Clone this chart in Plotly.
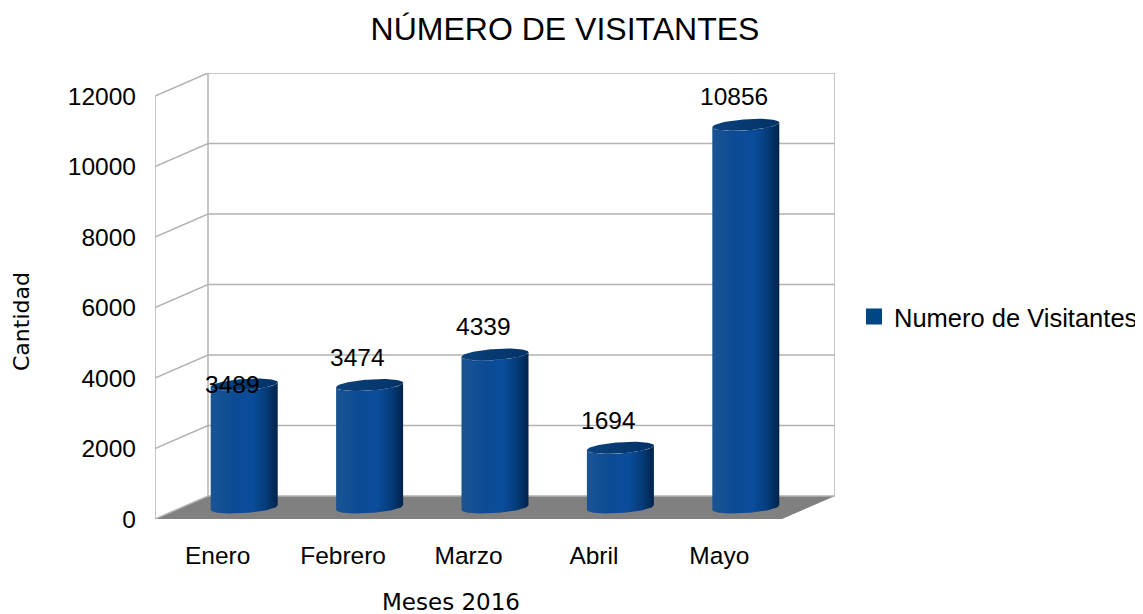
import numpy as np
import plotly.graph_objects as go

# ---------------- data ----------------
months = ["Enero", "Febrero", "Marzo", "Abril", "Mayo"]
visitors = [3489, 3474, 4339, 1694, 10856]
y_ticks = [0, 2000, 4000, 6000, 8000, 10000, 12000]
y_tick_text = ["0", "2000", "4000", "6000", "8000", "10000", "12000"]
series_name = "Numero de Visitantes"
title_text = "NÚMERO DE VISITANTES"
x_title = "Meses 2016"
y_title = "Cantidad"

# ---------------- geometry (pixels -> axis units) ----------------
OFF = 8                      # page body margin of the html output
W, H = 1143, 614
PL, PB = 155 - OFF, 519 - OFF   # front-left corner of the floor (px)
FRONT_W = 627               # front width (px)
Y_PX = 423                  # px for 0..12000
DEPTH_PX = (53, 23)         # oblique depth shift (px)
YMAX = 12000
ux = FRONT_W / len(months)          # px per category
uy = Y_PX / YMAX                    # px per visitor
DX = DEPTH_PX[0] / ux
DY = DEPTH_PX[1] / uy
x0, x1 = -0.5, len(months) - 0.5
PR = PL + FRONT_W + DEPTH_PX[0]
PT = PB - Y_PX - DEPTH_PX[1]
pw = PR - PL
ph = PB - PT


def px_x(p):
    return (p - OFF - PL) / pw


def px_y(p):
    return (PB - (p - OFF)) / ph


GRID = "#b3b3b3"
fig = go.Figure()

# floor
fig.add_trace(go.Scatter(
    x=[x0, x1, x1 + DX, x0 + DX, x0], y=[0, 0, DY, DY, 0],
    mode="lines", fill="toself", fillcolor="#808080",
    line=dict(width=0), hoverinfo="skip", showlegend=False))

# walls and grid lines
gx, gy = [], []
for v in y_ticks:
    gx += [x0, x0 + DX, x1 + DX, None]
    gy += [v, v + DY, v + DY, None]
gx += [x0, x0, None, x0 + DX, x0 + DX, None, x1 + DX, x1 + DX, None]
gy += [0, YMAX, None, DY, YMAX + DY, None, DY, YMAX + DY, None]
fig.add_trace(go.Scatter(x=gx, y=gy, mode="lines",
                         line=dict(color=GRID, width=1.5),
                         hoverinfo="skip", showlegend=False))

# cylinders
A = 31 / ux
B = 12.7 / ux
C = 6 / uy
alpha = np.arctan2(B, A)
body_scale = [[0, "#1a5493"], [0.35, "#0c4b95"], [0.62, "#0a4d9b"],
              [0.82, "#053c7a"], [1, "#00234a"]]
top_scale = [[0, "#0b417c"], [1, "#033266"]]

for i, v in enumerate(visitors):
    cx = i + 0.5 * DX
    yb = 0.5 * DY
    yt = v + 0.5 * DY
    th_front = np.linspace(alpha + np.pi, alpha + 2 * np.pi, 60)
    bx = cx + A * np.cos(th_front) + B * np.sin(th_front)
    by = yb + C * np.sin(th_front)
    tx = bx[::-1]
    ty = (yt + C * np.sin(th_front))[::-1]
    px_ = np.concatenate([bx, tx, bx[:1]])
    py_ = np.concatenate([by, ty, by[:1]])
    fig.add_trace(go.Scatter(
        x=px_, y=py_, mode="lines", fill="toself",
        fillgradient=dict(type="horizontal", colorscale=body_scale),
        line=dict(width=0), hoverinfo="skip", showlegend=False))
    th = np.linspace(0, 2 * np.pi, 100)
    ex = cx + A * np.cos(th) + B * np.sin(th)
    ey = yt + C * np.sin(th)
    fig.add_trace(go.Scatter(
        x=ex, y=ey, mode="lines", fill="toself",
        fillgradient=dict(type="horizontal", colorscale=top_scale),
        line=dict(width=0), hoverinfo="skip", showlegend=False))

# legend entry
fig.add_trace(go.Scatter(
    x=[None], y=[None], mode="markers", name=series_name,
    marker=dict(symbol="square", size=16, color="#004586")))

# data labels
label_dy = [0, 28, 28, 27, 28]
for i, v in enumerate(visitors):
    fig.add_annotation(x=i + 0.5 * DX, y=v + 0.5 * DY, text=str(v),
                       showarrow=False, xshift=-12, yshift=label_dy[i],
                       font=dict(family="Liberation Sans", size=24.5, color="#000"))

# axis titles
fig.add_annotation(xref="paper", yref="paper", x=px_x(21), y=px_y(322),
                   xanchor="center", yanchor="middle",
                   text=y_title, textangle=-90, showarrow=False,
                   font=dict(family="DejaVu Sans", size=22, color="#000"))
fig.add_annotation(xref="paper", yref="paper", x=px_x(451), y=px_y(602),
                   xanchor="center", yanchor="middle",
                   text=x_title, showarrow=False,
                   font=dict(family="DejaVu Sans", size=23, color="#000"))

fig.update_layout(
    width=W, height=H,
    margin=dict(l=PL, r=W - PR, t=PT, b=H - PB, autoexpand=False),
    paper_bgcolor="white", plot_bgcolor="white",
    font=dict(family="Liberation Sans", size=24.5, color="#000"),
    title=dict(text=title_text, x=(565 - OFF) / W, y=1 - (29 - OFF) / H,
               xanchor="center", yanchor="middle",
               font=dict(family="Liberation Sans", size=32, color="#000")),
    xaxis=dict(range=[x0, x1 + DX], tickvals=list(range(len(months))),
               ticktext=months, showgrid=False, zeroline=False,
               showline=False, ticks="", ticklabelstandoff=19,
               automargin=False, fixedrange=True),
    yaxis=dict(range=[0, YMAX + DY], tickvals=y_ticks, ticktext=y_tick_text,
               showgrid=False, zeroline=False, showline=False, ticks="",
               ticklabelstandoff=18, automargin=False, fixedrange=True),
    showlegend=True,
    legend=dict(x=px_x(854), y=px_y(317), yanchor="middle",
                xanchor="left", font=dict(family="Liberation Sans", size=25.5),
                itemsizing="trace", bgcolor="rgba(0,0,0,0)"),
)

fig.write_html("out.html")
